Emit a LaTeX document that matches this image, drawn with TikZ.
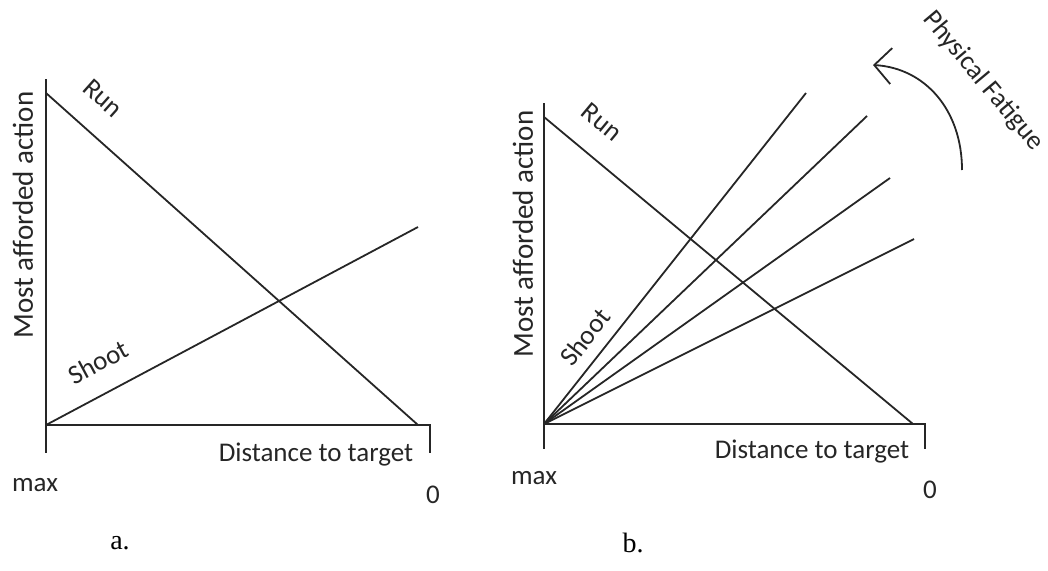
\documentclass[tikz,border=0pt]{standalone}
\usepackage{fontspec}
\setmainfont{Carlito}
\newfontfamily\capfont{Liberation Serif}
\usetikzlibrary{arrows.meta}
\begin{document}
\begin{tikzpicture}[x=1pt,y=-1pt,
  ax/.style={line width=2pt, draw=black!85, line cap=rect},
  ln/.style={line width=1.8pt, draw=black!85},
  lbl/.style={inner sep=0pt, text=black!85, font=\fontsize{27}{32}\selectfont},
  ylbl/.style={lbl, rotate=90, font=\fontsize{29}{34}\selectfont},
  capt/.style={inner sep=0pt, font=\capfont\fontsize{28}{32}\selectfont}]
\useasboundingbox (0,0) rectangle (1048,570);
% ---------- panel a ----------
\coordinate (aT) at (46,80);
\coordinate (aO) at (46,425);
\coordinate (aB) at (46,452);
\coordinate (aR) at (430,425);
\coordinate (aRB) at (430,452);
\coordinate (aRunS) at (46,93);
\coordinate (aRunE) at (418,425);
\coordinate (aShE) at (418,227);
\draw[ax] (aT) -- (aB);
\draw[ax] (aO) -- (aR) -- (aRB);
\draw[ln] (aRunS) -- (aRunE);
\draw[ln] (aO) -- (aShE);
\node[ylbl] (aY) at (23,215) {Most afforded action};
\node[lbl, rotate=-41.8] (aRun) at (103,98) {Run};
\node[lbl, rotate=28.1] (aShoot) at (98,362) {Shoot};
\node[lbl] (aX) at (316,455) {Distance to target};
\node[lbl] (aMax) at (35,485) {max};
\node[lbl] (aZero) at (433,495) {0};
\node[capt] (aCap) at (120,543) {a.};
% ---------- panel b ----------
\coordinate (bT) at (544,104);
\coordinate (bO) at (544,424);
\coordinate (bB) at (544,448);
\coordinate (bR) at (925,424);
\coordinate (bRB) at (925,448);
\coordinate (bRunS) at (544,117);
\coordinate (bRunE) at (913,424);
\coordinate (bF1) at (806,93);
\coordinate (bF2) at (867,116);
\coordinate (bF3) at (890,178);
\coordinate (bF4) at (914,239);
\draw[ax] (bT) -- (bB);
\draw[ax] (bO) -- (bR) -- (bRB);
\draw[ln] (bRunS) -- (bRunE);
\draw[ln] (bO) -- (bF1);
\draw[ln] (bO) -- (bF2);
\draw[ln] (bO) -- (bF3);
\draw[ln] (bO) -- (bF4);
\node[ylbl] (bY) at (523,234) {Most afforded action};
\node[lbl, rotate=-39.7] (bRun) at (602,122) {Run};
\node[lbl, rotate=51.7] (bShoot) at (585,337) {Shoot};
\node[lbl] (bX) at (812,452) {Distance to target};
\node[lbl] (bMax) at (534,478) {max};
\node[lbl] (bZero) at (930,490) {0};
\node[capt] (bCap) at (633,543) {b.};
% fatigue arrow
\coordinate (fS) at (962,170);
\coordinate (fE) at (873,65);
\draw[ln, -{Straight Barb[length=17pt,width=36pt,line width=1.8pt]}]
  (fS) .. controls (962,110) and (925,68) .. (fE);
\node[lbl, rotate=-50] (fat) at (983,81) {Physical Fatigue};
\end{tikzpicture}
\end{document}
